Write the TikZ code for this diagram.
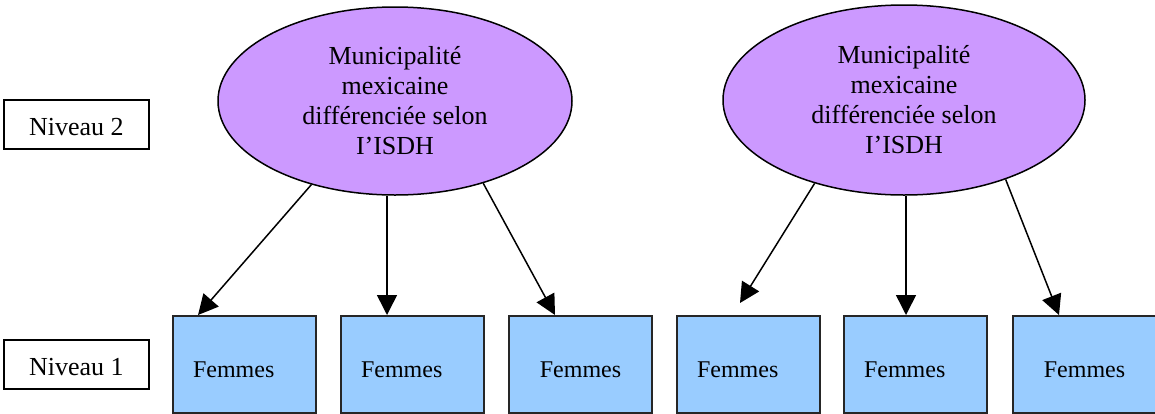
\documentclass[tikz,border=0pt]{standalone}
\usepackage{fontspec}
\setmainfont{Liberation Serif}
\usetikzlibrary{shapes.geometric,arrows.meta,calc}
\definecolor{ellfill}{HTML}{CC99FF}
\definecolor{boxfill}{HTML}{99CCFF}
\tikzset{
  ell/.style={ellipse, draw=black, line width=1.5pt, fill=ellfill, inner sep=0pt,
    align=center, font=\fontsize{26}{30}\selectfont},
  femme/.style={rectangle, draw=black!85, line width=2pt, fill=boxfill, anchor=north west,
    minimum height=97pt, inner ysep=0pt, inner xsep=20pt, text width=103pt,
    text height=26pt, text depth=0pt, font=\fontsize{24}{28}\selectfont},
  femmel/.style={femme, align=left},
  femmec/.style={femme, align=center, inner xsep=0pt, text width=143pt},
  niveau/.style={rectangle, draw=black, line width=1.8pt, fill=white, anchor=north west,
    minimum width=145pt, minimum height=49pt, inner sep=0pt, text height=23pt, text depth=0pt,
    font=\fontsize{26}{30}\selectfont},
  arr/.style={-{Triangle[length=20pt,width=20pt]}, line width=1.5pt, black}
}
\begin{document}
\begin{tikzpicture}[x=1pt,y=-1pt]
\useasboundingbox (0,0) rectangle (1155,413);
% level boxes
\node[niveau] (n2) at (3,99) {Niveau 2};
\node[niveau] (n1) at (3,339) {Niveau 1};
% ellipses
\node[ell, minimum width=354pt, minimum height=188pt] (e1) at (395,101)
  {Municipalité\\mexicaine\\différenciée selon\\I’ISDH};
\node[ell, minimum width=362pt, minimum height=190pt] (e2) at (904,100)
  {Municipalité\\mexicaine\\différenciée selon\\I’ISDH};
% women boxes
\node[femmel] (b1) at (172,315) {Femmes};
\node[femmel] (b2) at (340,315) {Femmes};
\node[femmec] (b3) at (508,315) {Femmes};
\node[femmel] (b4) at (676,315) {Femmes};
\node[femmel] (b5) at (843,315) {Femmes};
\node[femmec] (b6) at (1012,315) {Femmes};
% tip coordinates
\coordinate (t1) at ($(b1.north west)+(26,0)$);
\coordinate (t2) at ($(b2.north west)+(47,0)$);
\coordinate (t3) at ($(b3.north west)+(47,0)$);
\coordinate (t4) at ($(b4.north west)+(64,-12)$);
\coordinate (t5) at ($(b5.north west)+(63,0)$);
\coordinate (t6) at ($(b6.north west)+(47,0)$);
% arrows
\draw[arr] (e1.225.4) -- (t1);
\draw[arr] (t2 |- e1.south) -- (t2);
\draw[arr] (e1.317.4) -- (t3);
\draw[arr] (e2.223.6) -- (t4);
\draw[arr] (t5 |- e2.south) -- (t5);
\draw[arr] (e2.322.5) -- (t6);
\end{tikzpicture}
\end{document}
